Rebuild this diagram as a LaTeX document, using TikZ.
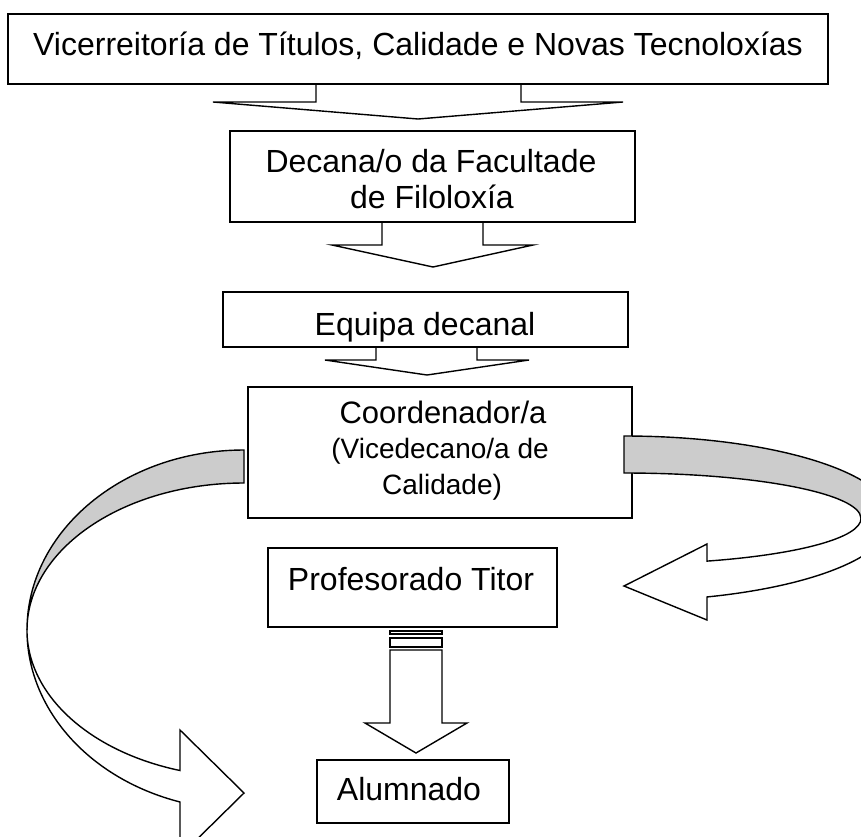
\documentclass[tikz,border=0pt]{standalone}
\usepackage{fontspec}
\setmainfont{Liberation Sans}
\usetikzlibrary{calc}
\definecolor{ribbon}{RGB}{204,204,204}
\begin{document}
\begin{tikzpicture}[x=1pt,y=-1pt,
  box/.style={draw, line width=1.6pt, fill=white, inner sep=0pt},
  blockarrow/.style={draw, line width=1.4pt, fill=white, line join=miter},
  ribbonback/.style={draw, line width=1.4pt, fill=ribbon},
  lbl/.style={anchor=base, inner sep=0pt, font=\fontsize{32}{36.8}\selectfont},
  lblsmall/.style={anchor=base, inner sep=0pt, font=\fontsize{28}{32}\selectfont},
  ]
\useasboundingbox (0,0) rectangle (861,836);
\clip (0,0) rectangle (861,836);

% straight block arrows (drawn first, boxes cover their top edges)
\draw[blockarrow] (316,84) -- (316,102) -- (213,102) -- (418,119) -- (623,102) -- (521,102) -- (521,84) -- cycle;
\draw[blockarrow] (382,222) -- (382,245) -- (332,245) -- (433,267) -- (533,245) -- (483,245) -- (483,222) -- cycle;
\draw[blockarrow] (376,347) -- (376,360) -- (325,360) -- (427,375) -- (529,360) -- (477,360) -- (477,347) -- cycle;
\draw[blockarrow] (390,631) rectangle (442,634);
\draw[blockarrow] (390,638) rectangle (442,647);
\draw[blockarrow] (390,650) -- (390,723) -- (365,723) -- (416,753) -- (467,723) -- (442,723) -- (442,650) -- cycle;

% boxes
\node[box, minimum width=820pt, minimum height=70pt] (vice) at (418,49) {};
\node[box, minimum width=405pt, minimum height=91pt] (decana) at (432.5,176.5) {};
\node[box, minimum width=405pt, minimum height=55pt] (equipa) at (425.5,319.5) {};
\node[box, minimum width=384pt, minimum height=131pt] (coord) at (440,452.5) {};
\node[box, minimum width=289pt, minimum height=79pt] (prof) at (412.5,587.5) {};
\node[box, minimum width=192pt, minimum height=63pt] (alum) at (413,791.5) {};

% texts
\node[lbl] (t1) at (418,55) {Vicerreitoría de Títulos, Calidade e Novas Tecnoloxías};
\node[lbl] (t2a) at (431,172) {Decana/o da Facultade};
\node[lbl] (t2b) at (432,208) {de Filoloxía};
\node[lbl] (t3) at (425,335) {Equipa decanal};
\node[lbl, font=\fontsize{31}{36}\selectfont] (t4a) at (443,423) {Coordenador/a};
\node[lblsmall] (t4b) at (440,458) {(Vicedecano/a de};
\node[lblsmall] (t4c) at (442,494) {Calidade)};
\node[lbl] (t5) at (411,590) {Profesorado Titor};
\node[lbl] (t6) at (409,800) {Alumnado};

% left curved ribbon arrow (from Coordenador/a down to Alumnado)
\draw[ribbonback] (244,450) arc[start angle=-90, end angle=-180, x radius=217, y radius=180]
  arc[start angle=180, end angle=270, x radius=217, y radius=147] -- cycle;
\draw[blockarrow] (27,630) arc[start angle=180, end angle=107.15, x radius=217, y radius=180]
  -- (180,856) -- (244,793) -- (180,730) -- (180,770.5)
  arc[start angle=107.15, end angle=180, x radius=217, y radius=147] -- cycle;

% right curved ribbon arrow (from Coordenador/a back to Profesorado Titor)
\draw[ribbonback] (624,436) arc[start angle=-90, end angle=0, x radius=268, y radius=82.5]
  -- (861,518.5) arc[start angle=0, end angle=-90, x radius=237, y radius=45.5] -- cycle;
\draw[blockarrow] (892,518.5) arc[start angle=0, end angle=71.96, x radius=268, y radius=82.5]
  -- (707,620) -- (624,586) -- (707,544) -- (707,561.1)
  arc[start angle=69.5, end angle=0, x radius=237, y radius=45.5] -- cycle;
\end{tikzpicture}
\end{document}
